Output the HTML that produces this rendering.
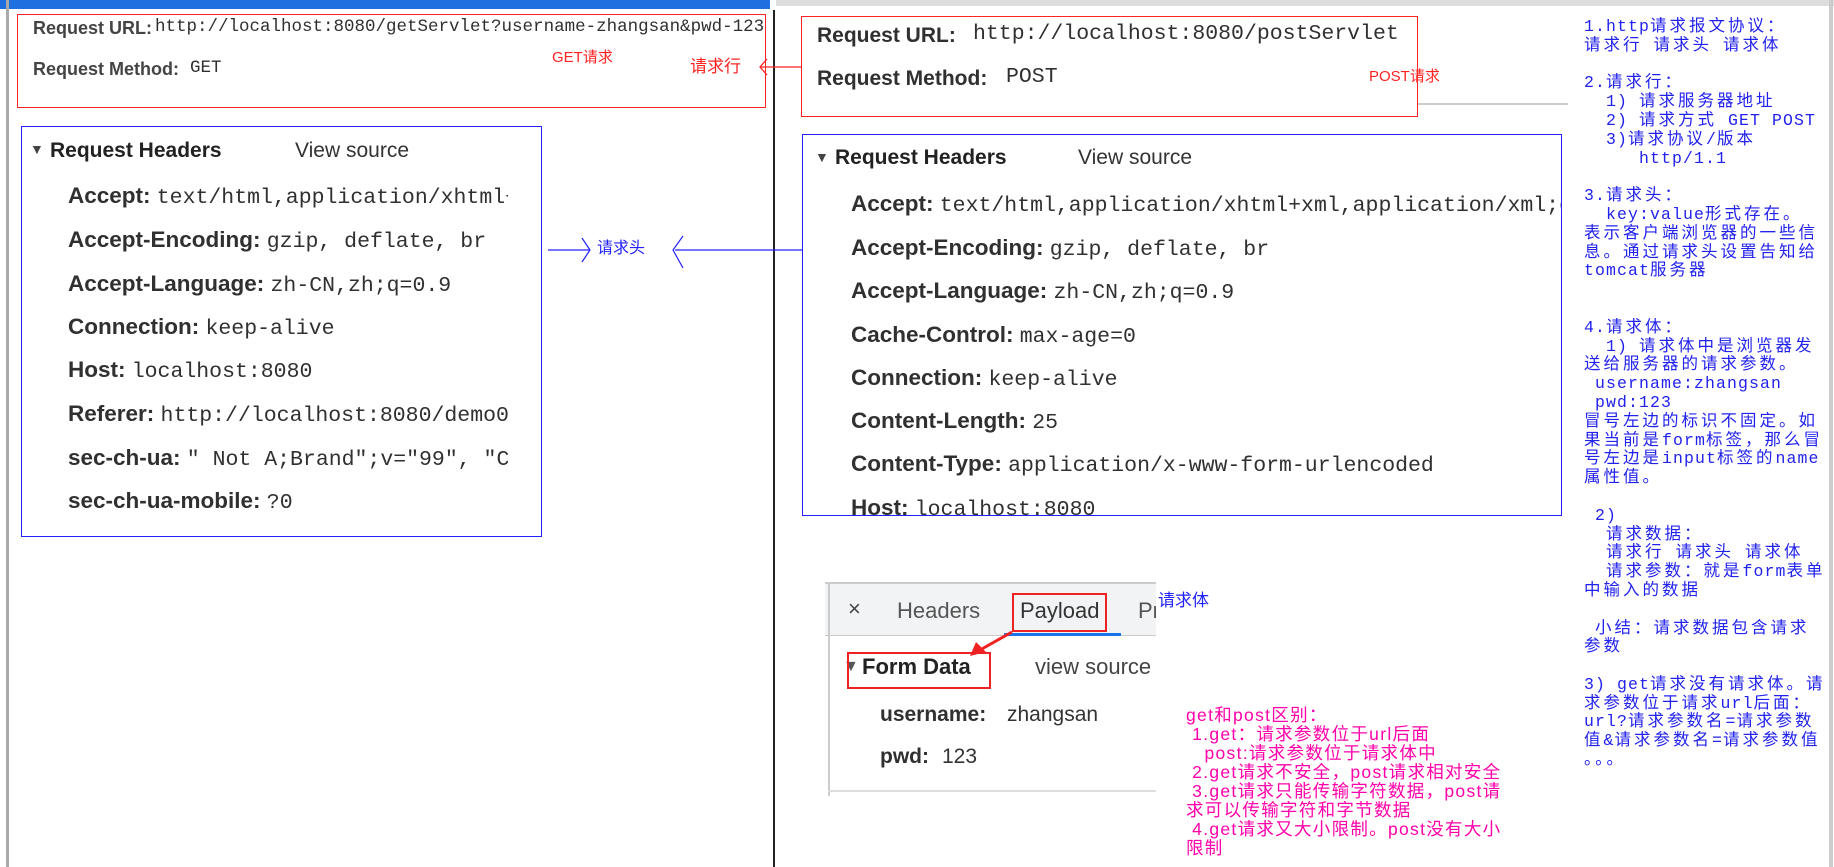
<!DOCTYPE html>
<html><head><meta charset="utf-8"><style>
*{margin:0;padding:0;box-sizing:border-box}
body{width:1834px;height:867px;position:relative;background:#fff;overflow:hidden;font-family:"Liberation Sans","Noto Sans CJK SC",sans-serif;color:#333}
.a{position:absolute;white-space:pre;line-height:1}
.lab{font-weight:bold;color:#303030;font-size:22.5px}
.mono{font-family:"Liberation Mono","Noto Sans CJK SC",monospace;color:#303030}
.v{font-family:"Liberation Mono",monospace;font-weight:normal;font-size:21.5px;color:#303030}
.box{position:absolute}
.c{letter-spacing:3px}
</style></head><body>
<div class="box" style="left:0;top:0;width:770px;height:9px;background:#1e6fe0"></div>
<div class="box" style="left:776px;top:0;width:1058px;height:6px;background:#ddd"></div>
<div class="box" style="left:6px;top:0;width:3px;height:867px;background:#aaa"></div>
<div class="box" style="left:773px;top:10px;width:2px;height:857px;background:#222"></div>
<div class="box" style="left:1829px;top:0;width:4px;height:867px;background:#ccc"></div>
<div class="box" style="left:1418px;top:103px;width:150px;height:2px;background:#ccc"></div>

<div class="box" style="left:17px;top:14px;width:749px;height:94px;border:1.5px solid #f22"></div>
<div class="a lab" style="left:33px;top:19px;font-size:18px;color:#444">Request URL:</div>
<div class="a mono" style="left:155px;top:19px;font-size:17.5px">http://localhost:8080/getServlet?username-zhangsan&amp;pwd-123</div>
<div class="a lab" style="left:33px;top:60px;font-size:18px;color:#444">Request Method:</div>
<div class="a mono" style="left:190px;top:60px;font-size:17.5px">GET</div>
<div class="a" style="left:552px;top:50px;font-size:15px;color:#f22">GET请求</div>
<div class="a" style="left:690px;top:58px;font-size:17px;color:#f22">请求行</div>
<svg class="box" style="left:750px;top:55px" width="60" height="25"><path d="M10 12 L52 12 M17 4 L10 12 L17 20" stroke="#f22" stroke-width="1.3" fill="none"/></svg>

<div class="box" style="left:21px;top:126px;width:521px;height:411px;border:1.5px solid #22f"></div>
<div class="a" style="left:30px;top:142px;font-size:14px;color:#444">▼</div>
<div class="a lab" style="left:50px;top:140px;font-size:21px;color:#222">Request Headers</div>
<div class="a" style="left:295px;top:140px;font-size:21px;color:#333">View source</div>
<div style="position:absolute;left:68px;top:0;width:440px;height:867px;overflow:hidden">
<div class="a lab" style="left:0;top:185px">Accept: <span class="v">text/html,application/xhtml+xml</span></div>
<div class="a lab" style="left:0;top:229px">Accept-Encoding: <span class="v">gzip, deflate, br</span></div>
<div class="a lab" style="left:0;top:273px">Accept-Language: <span class="v">zh-CN,zh;q=0.9</span></div>
<div class="a lab" style="left:0;top:316px">Connection: <span class="v">keep-alive</span></div>
<div class="a lab" style="left:0;top:359px">Host: <span class="v">localhost:8080</span></div>
<div class="a lab" style="left:0;top:403px">Referer: <span class="v">http://localhost:8080/demo01</span></div>
<div class="a lab" style="left:0;top:447px">sec-ch-ua: <span class="v">" Not A;Brand";v="99", "Chrome"</span></div>
<div class="a lab" style="left:0;top:490px">sec-ch-ua-mobile: <span class="v">?0</span></div>
</div>

<svg class="box" style="left:545px;top:230px" width="260" height="45"><path d="M3 20 L45 20 M37 8 L45 20 L37 32" stroke="#22f" stroke-width="1.2" fill="none"/><path d="M130 20 L257 20 M138 6 L128 20 L138 38" stroke="#22f" stroke-width="1.2" fill="none"/></svg>
<div class="a" style="left:597px;top:241px;font-size:16px;color:#22f">请求头</div>

<div class="box" style="left:801px;top:16px;width:617px;height:101px;border:1.5px solid #f22"></div>
<div class="a lab" style="left:817px;top:25px;font-size:21px">Request URL:</div>
<div class="a mono" style="left:973px;top:24px;font-size:21.5px">http://localhost:8080/postServlet</div>
<div class="a lab" style="left:817px;top:68px;font-size:21px">Request Method:</div>
<div class="a mono" style="left:1006px;top:67px;font-size:21.5px">POST</div>
<div class="a" style="left:1369px;top:69px;font-size:15px;color:#f22">POST请求</div>

<div class="box" style="left:802px;top:134px;width:760px;height:382px;border:1.5px solid #22f;overflow:hidden">
<div class="a" style="left:12px;top:15px;font-size:14px;color:#444">▼</div>
<div class="a lab" style="left:32px;top:12px;font-size:21px;color:#222">Request Headers</div>
<div class="a" style="left:275px;top:12px;font-size:21px">View source</div>
<div style="position:absolute;left:48px;top:0;width:710px;height:400px;overflow:hidden">
<div class="a lab" style="left:0;top:58px">Accept: <span class="v">text/html,application/xhtml+xml,application/xml;q=0.9</span></div>
<div class="a lab" style="left:0;top:102px">Accept-Encoding: <span class="v">gzip, deflate, br</span></div>
<div class="a lab" style="left:0;top:145px">Accept-Language: <span class="v">zh-CN,zh;q=0.9</span></div>
<div class="a lab" style="left:0;top:189px">Cache-Control: <span class="v">max-age=0</span></div>
<div class="a lab" style="left:0;top:232px">Connection: <span class="v">keep-alive</span></div>
<div class="a lab" style="left:0;top:275px">Content-Length: <span class="v">25</span></div>
<div class="a lab" style="left:0;top:318px">Content-Type: <span class="v">application/x-www-form-urlencoded</span></div>
<div class="a lab" style="left:0;top:362px">Host: <span class="v">localhost:8080</span></div>
</div></div>

<div class="box" style="left:825px;top:582px;width:331px;height:54px;background:#f1f3f4;border-top:2px solid #ccc;border-bottom:1px solid #ccc"></div>
<div class="box" style="left:828px;top:582px;width:2px;height:214px;background:#ccc"></div>
<div class="box" style="left:828px;top:790px;width:328px;height:2px;background:#ddd"></div>
<div class="a" style="left:848px;top:598px;font-size:22px;color:#444">×</div>
<div class="a" style="left:897px;top:600px;font-size:22px;color:#555">Headers</div>
<div class="a" style="left:1020px;top:600px;font-size:22px;color:#333">Payload</div>
<div class="box" style="left:1012px;top:593px;width:95px;height:39px;border:2.5px solid #e22"></div>
<div class="box" style="left:1004px;top:633px;width:117px;height:3px;background:#1a73e8"></div>
<div style="position:absolute;left:1138px;top:600px;width:18px;height:30px;overflow:hidden"><div class="a" style="left:0;top:0;font-size:22px;color:#555">Pr</div></div>
<div class="a" style="left:1158px;top:592px;font-size:17px;color:#22f">请求体</div>
<div class="a" style="left:843px;top:659px;font-size:16px;color:#555">▼</div>
<div class="a lab" style="left:862px;top:656px;font-size:22px;color:#222">Form Data</div>
<div class="box" style="left:847px;top:652px;width:144px;height:37px;border:2.5px solid #e22"></div>
<div class="a" style="left:1035px;top:656px;font-size:22px;color:#444">view source</div>
<div class="a lab" style="left:880px;top:704px;font-size:21px">username:</div>
<div class="a" style="left:1007px;top:704px;font-size:21px;color:#333">zhangsan</div>
<div class="a lab" style="left:880px;top:746px;font-size:21px">pwd:</div>
<div class="a" style="left:942px;top:746px;font-size:21px;color:#333">123</div>
<svg class="box" style="left:960px;top:628px" width="60" height="30"><path d="M52 4 L20 22" stroke="#e22" stroke-width="3"/><path d="M10 28 L16 14 L26 24 Z" fill="#e22"/></svg>

<div class="a" style="left:1186px;top:706px;font-size:17.5px;line-height:19px;color:#f0a;letter-spacing:1.3px">get和post区别：
 1.get：请求参数位于url后面
   post:请求参数位于请求体中
 2.get请求不安全，post请求相对安全
 3.get请求只能传输字符数据，post请
求可以传输字符和字节数据
 4.get请求又大小限制。post没有大小
限制</div>

<div id="notes" class="a" style="left:1584px;top:18px;font-family:'Liberation Mono','Noto Sans CJK SC',monospace;font-size:16.5px;line-height:18.8px;color:#22e;letter-spacing:1.1px">1.http请求报文协议：
请求行 请求头 请求体

2.请求行：
  1) 请求服务器地址
  2) 请求方式 GET POST
  3)请求协议/版本
     http/1.1

3.请求头：
  key:value形式存在。
表示客户端浏览器的一些信
息。通过请求头设置告知给
tomcat服务器


4.请求体：
  1) 请求体中是浏览器发
送给服务器的请求参数。
 username:zhangsan
 pwd:123
冒号左边的标识不固定。如
果当前是form标签，那么冒
号左边是input标签的name
属性值。

 2)
  请求数据：
  请求行 请求头 请求体
  请求参数：就是form表单
中输入的数据

 小结：请求数据包含请求
参数

3) get请求没有请求体。请
求参数位于请求url后面：
url?请求参数名=请求参数
值&amp;请求参数名=请求参数值
。。。</div>
<script>
var n=document.getElementById('notes');
n.innerHTML=n.innerHTML.replace(/([\u3000-\u9fff\uff00-\uffef]+)/g,'<span class="c">$1</span>');
</script>
</body></html>
